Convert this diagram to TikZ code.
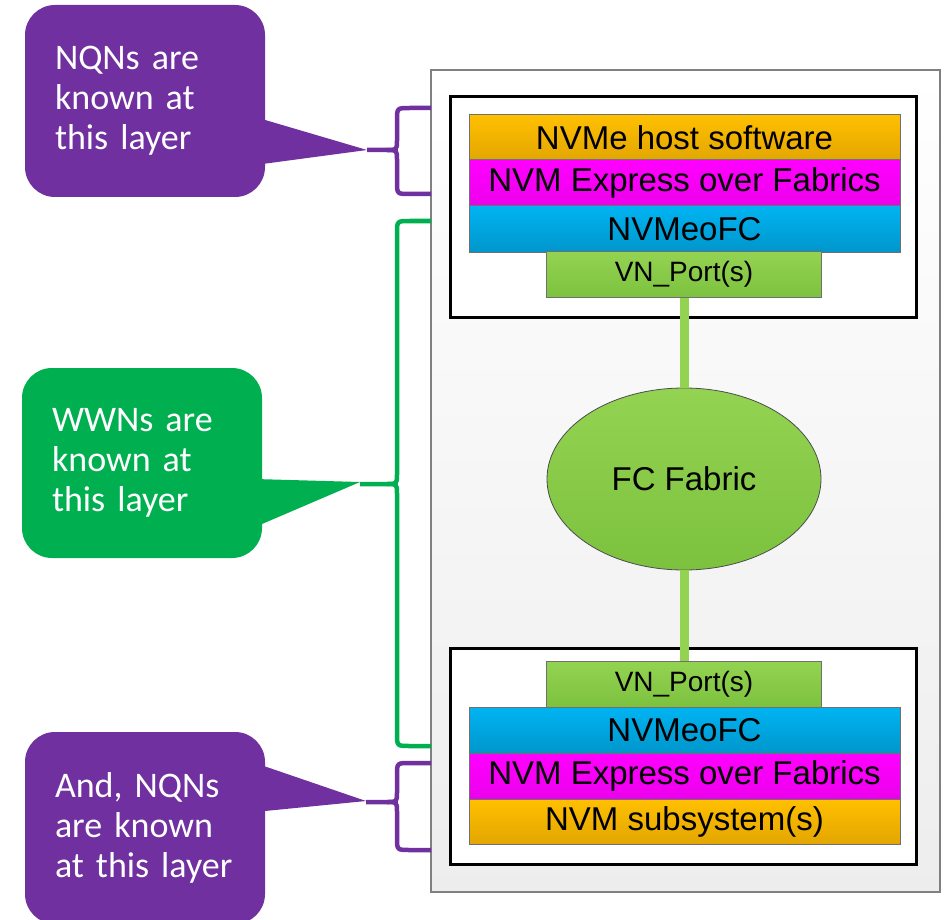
\documentclass[tikz,border=0pt]{standalone}
\usepackage{fontspec}
\setmainfont{Liberation Sans}
\newfontfamily\calfont{Carlito}
\usetikzlibrary{shapes.geometric}
\definecolor{cpurple}{HTML}{7030A0}
\definecolor{cgreen}{HTML}{00B050}
\definecolor{lgreenT}{HTML}{94D352}
\definecolor{lgreenB}{HTML}{7CC23E}
\definecolor{orT}{HTML}{FFC000}
\definecolor{orB}{HTML}{E3A600}
\definecolor{cyT}{HTML}{00B4F2}
\definecolor{cyB}{HTML}{0096CC}
\definecolor{mgT}{HTML}{FF00FF}
\definecolor{mgB}{HTML}{EC00EC}
\definecolor{laybord}{HTML}{707070}
\newcommand\mybrace[5]{% color, top y, bottom y, tip y, tip x
  \draw[bracestyle,#1] (431,#2) -- (410,#2) .. controls (397,#2) .. (397,#2+12) -- (397,#4-10)
     .. controls (397,#4) .. (387,#4) -- (#5,#4);
  \draw[bracestyle,#1] (387,#4) .. controls (397,#4) .. (397,#4+10) -- (397,#3-12)
     .. controls (397,#3) .. (410,#3) -- (431,#3);
}
\begin{document}
\begin{tikzpicture}[x=1pt,y=-1pt,
  bracestyle/.style={line width=4.5pt},
  callbox/.style={rounded corners=30pt, minimum width=240pt, minimum height=192pt,
    text width=180pt, inner xsep=30pt, inner ysep=0pt, align=left, text=white,
    font=\calfont\fontsize{36}{40}\selectfont},
  layer/.style={draw=laybord, line width=1pt, minimum width=431pt, inner sep=0pt,
    font=\fontsize{33}{36}\selectfont},
  vnport/.style={draw=laybord, line width=1pt, minimum width=275pt, minimum height=46pt,
    inner sep=0pt, top color=lgreenT, bottom color=lgreenB, font=\fontsize{28}{30}\selectfont},
  hostbox/.style={draw=black, line width=3pt, fill=white, minimum width=466pt, inner sep=0pt},
  link/.style={draw=lgreenT, line width=9pt},
]
\useasboundingbox (0,0) rectangle (950,920);
\clip (0,0) rectangle (950,920);

% outer panel
\node[draw=gray, line width=1.5pt, top color=white, bottom color=black!7,
      minimum width=509pt, minimum height=822pt, inner sep=0pt] (panel) at (685.5,481) {};

% braces
\mybrace{cpurple}{108}{194}{150}{367}
\mybrace{cgreen}{221}{746}{484}{360}
\mybrace{cpurple}{763}{850}{802}{366}
\coordinate (tip1) at (367,150);
\coordinate (tip2) at (360,482);
\coordinate (tip3) at (366,801);

% callouts
\fill[cpurple] (255,117) -- (tip1) -- (255,165) -- cycle;
\node[callbox, fill=cpurple] (c1) at (145,101) {NQNs are\\known at\\this layer};
\fill[cgreen] (255,479) -- (tip2) -- (255,527) -- cycle;
\node[callbox, fill=cgreen, minimum height=190pt] (c2) at (142,463) {WWNs are\\known at\\this layer};
\fill[cpurple] (255,763) -- (tip3) -- (255,812) -- cycle;
\node[callbox, fill=cpurple] (c3) at (145,828) {And, NQNs\\are known\\at this layer};

% host boxes
\node[hostbox, minimum height=220pt] (top) at (683,207) {};
\node[hostbox, minimum height=216pt] (bot) at (683,756) {};

% top stack
\node[layer, minimum height=45pt, top color=orT, bottom color=orB] (host) at (684.5,137.5) {NVMe host software};
\node[layer, minimum height=46pt, top color=mgT, bottom color=mgB] (nvmf1) at (684.5,183) {NVM Express over Fabrics};
\node[layer, minimum height=46pt, top color=cyT, bottom color=cyB] (fc1) at (684.5,229) {NVMeoFC};
\node[vnport] (vn1) at (684,274.5) {VN\_Port(s)};

% fabric
\node[ellipse, draw=black!70, line width=0.8pt, minimum width=274pt, minimum height=182pt,
      inner sep=0pt, top color=lgreenT, bottom color=lgreenB, font=\fontsize{33}{36}\selectfont] (fab) at (684,479) {FC Fabric};

% bottom stack
\node[vnport] (vn2) at (684,684) {VN\_Port(s)};
\node[layer, minimum height=46pt, top color=cyT, bottom color=cyB] (fc2) at (684.5,730) {NVMeoFC};
\node[layer, minimum height=46pt, top color=mgT, bottom color=mgB] (nvmf2) at (684.5,776) {NVM Express over Fabrics};
\node[layer, minimum height=45pt, top color=orT, bottom color=orB] (sub) at (684.5,821.5) {NVM subsystem(s)};

% links
\draw[link] (vn1.south) -- (fab.north);
\draw[link] (fab.south) -- (vn2.north);
\end{tikzpicture}
\end{document}
